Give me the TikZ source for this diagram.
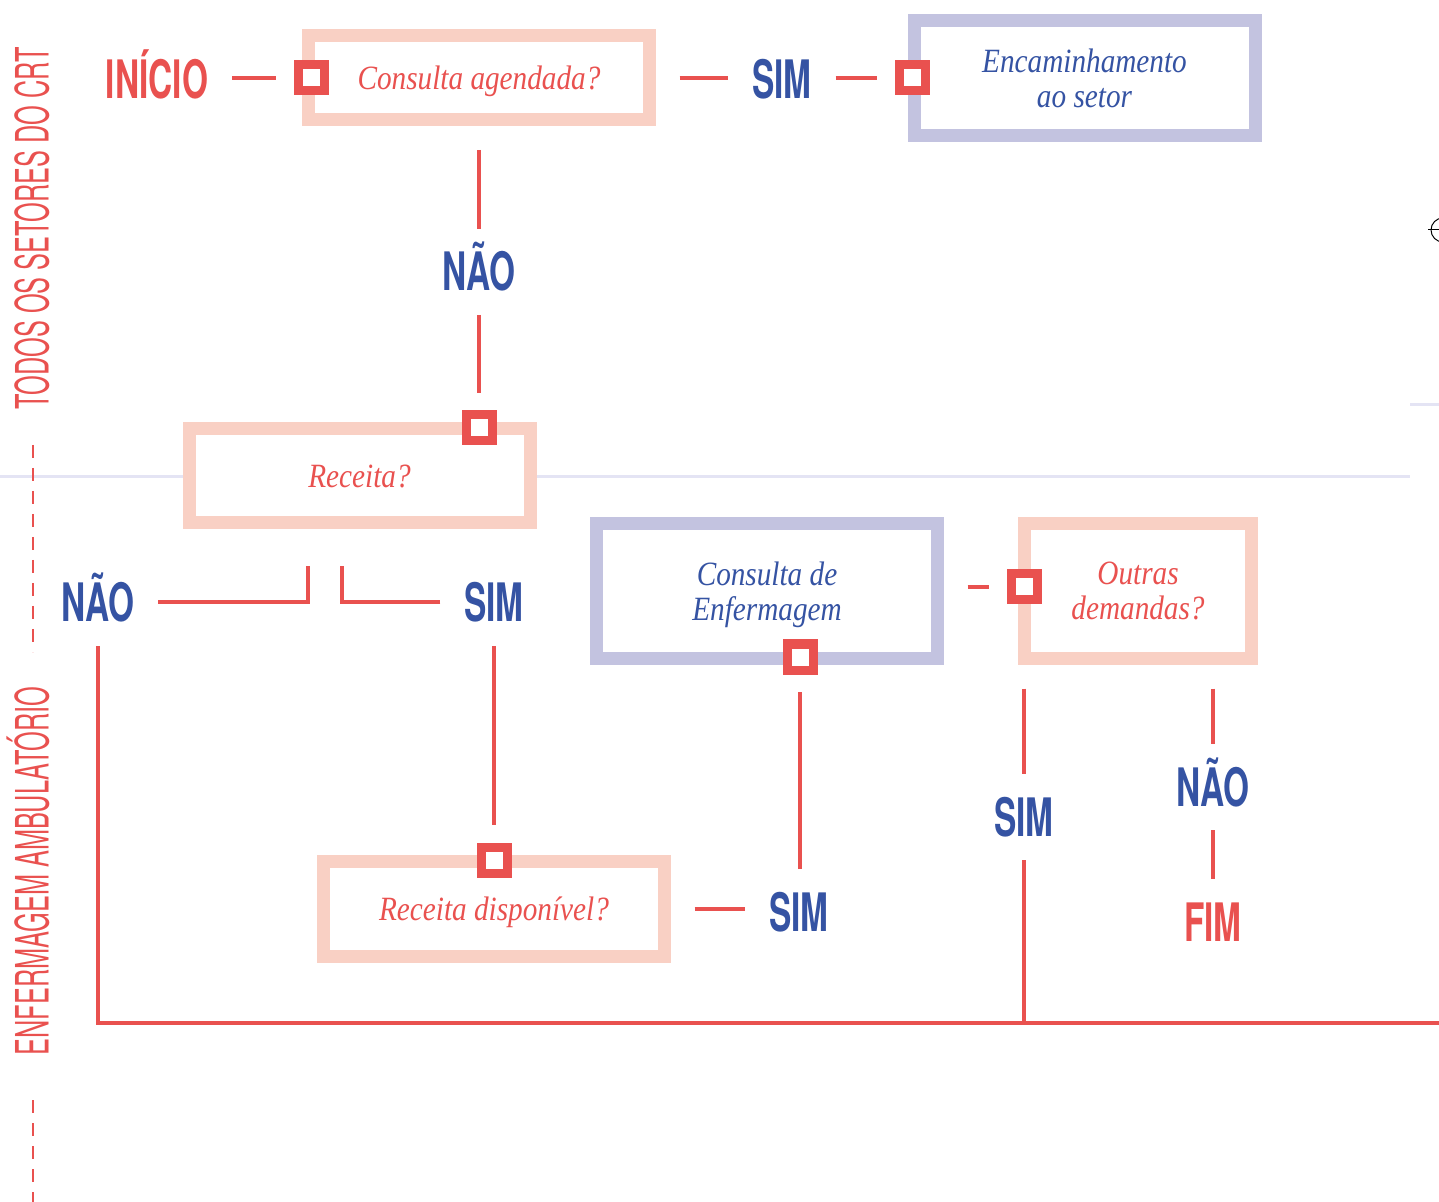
\documentclass[tikz,border=0pt]{standalone}
\usepackage{fontspec}
\setmainfont{Liberation Serif}
\newfontfamily\headfont[FakeStretch=0.63]{TeX Gyre Heros}
\newfontfamily\lanefont[FakeStretch=0.55]{TeX Gyre Heros}
\newfontfamily\boxfont[FakeStretch=0.86]{Liberation Serif}

\definecolor{crtred}{HTML}{E9514F}
\definecolor{crtblue}{HTML}{3553A3}
\definecolor{crtpink}{HTML}{F9D0C4}
\definecolor{crtlilac}{HTML}{C3C3E0}
\definecolor{crtlane}{HTML}{E4E4F4}

\tikzset{
  qbox/.style={draw=crtpink, line width=6.5pt, fill=white, text=crtred,
    minimum width=170.5pt, align=center, outer sep=15pt, text depth=0pt,
    font=\boxfont\itshape\fontsize{17}{17.5}\selectfont},
  abox/.style={qbox, draw=crtlilac, text=crtblue},
  port/.style={draw=crtred, line width=4.5pt, fill=white, minimum size=13pt,
    inner sep=0pt, outer sep=11pt},
  lbl/.style={text=crtblue, inner sep=0pt, outer sep=12pt, text height=19pt,
    text depth=0pt, font=\headfont\bfseries\fontsize{26.5}{26.5}\selectfont},
  lane/.style={text=crtred, rotate=90, inner sep=0pt, text height=16.5pt,
    text depth=0pt, font=\lanefont\fontsize{23}{23}\selectfont},
  link/.style={draw=crtred, line width=2.4pt}
}

\begin{document}
\begin{tikzpicture}[x=0.5pt, y=-0.5pt]
  \useasboundingbox (0,0) rectangle (1439,1202);

  % lanes
  \draw[crtlane, line width=1.5pt] (0,477) -- (1410,477);
  \draw[crtlane, line width=1.5pt] (1410,405) -- (1439,405);
  \node[lane] (lane1) at (32,228.5) {TODOS OS SETORES DO CRT};
  \node[lane] (lane2) at (32,871) {ENFERMAGEM AMBULATÓRIO};
  \draw[crtred, line width=1pt, dash pattern=on 6.5pt off 5pt] (33,445) -- (33,652);
  \draw[crtred, line width=1pt, dash pattern=on 6.5pt off 5pt] (33,1100) -- (33,1202);
  \draw[black, line width=0.5pt] (1443,230) circle (12);
  \draw[black, line width=0.5pt] (1428,230) -- (1439,230);

  % boxes
  \node[qbox, minimum height=42pt] (agenda) at (479,78) {Consulta agendada?};
  \node[abox, minimum height=57.75pt] (encam) at (1084.5,78.25) {Encaminhamento\\ao setor};
  \node[qbox, minimum height=47pt] (receita) at (359.5,476) {Receita?};
  \node[qbox, minimum height=47.25pt] (dispo) at (494,909) {Receita disponível?};
  \node[abox, minimum height=67.5pt] (enferm) at (767,591) {Consulta de\\Enfermagem};
  \node[qbox, minimum width=113.5pt, minimum height=67.5pt] (outras) at (1138,591) {Outras\\demandas?};

  % ports
  \node[port] (pAgenda) at (311,78) {};
  \node[port] (pEncam) at (912,78) {};
  \node[port] (pReceita) at (479,428) {};
  \node[port] (pDispo) at (494,860) {};
  \node[port] (pEnferm) at (800,657) {};
  \node[port] (pOutras) at (1024,587) {};

  % labels
  \node[lbl, text=crtred] (inicio) at (157,80) {INÍCIO};
  \node[lbl] (simA) at (782,80) {SIM};
  \node[lbl] (naoA) at (479,272) {NÃO};
  \node[lbl] (naoR) at (98,603) {NÃO};
  \node[lbl] (simR) at (494,603) {SIM};
  \node[lbl] (simD) at (799,912) {SIM};
  \node[lbl] (simO) at (1024,817) {SIM};
  \node[lbl] (naoO) at (1213,787) {NÃO};
  \node[lbl, text=crtred] (fim) at (1213,922) {FIM};

  \coordinate (rLeft) at (308,566);
  \coordinate (rRight) at (342,566);
  \coordinate (fimLinha) at (1439,1023);

  % connectors
  \draw[link] (inicio.east |- pAgenda) -- (pAgenda);
  \draw[link] (agenda.east) -- (simA.west |- agenda.east);
  \draw[link] (simA.east |- pEncam) -- (pEncam);
  \draw[link] (agenda) -- (naoA);
  \draw[link] (naoA) -- (pReceita);
  \draw[link] (naoR.east |- 0,602) -| (rLeft);
  \draw[link] (simR.west |- 0,602) -| (rRight);
  \draw[link] (naoR) |- (fimLinha);
  \draw[link] (simR) -- (pDispo);
  \draw[link] (dispo.east) -- (simD.west |- dispo.east);
  \draw[link] (simD.north -| pEnferm) -- (pEnferm);
  \draw[link] (enferm.east |- pOutras) -- (pOutras);
  \draw[link] (simO |- outras.south) -- (simO);
  \draw[link] (simO) -- (simO |- fimLinha);
  \draw[link] (naoO |- outras.south) -- (naoO);
  \draw[link] (naoO) -- (fim);
\end{tikzpicture}
\end{document}
